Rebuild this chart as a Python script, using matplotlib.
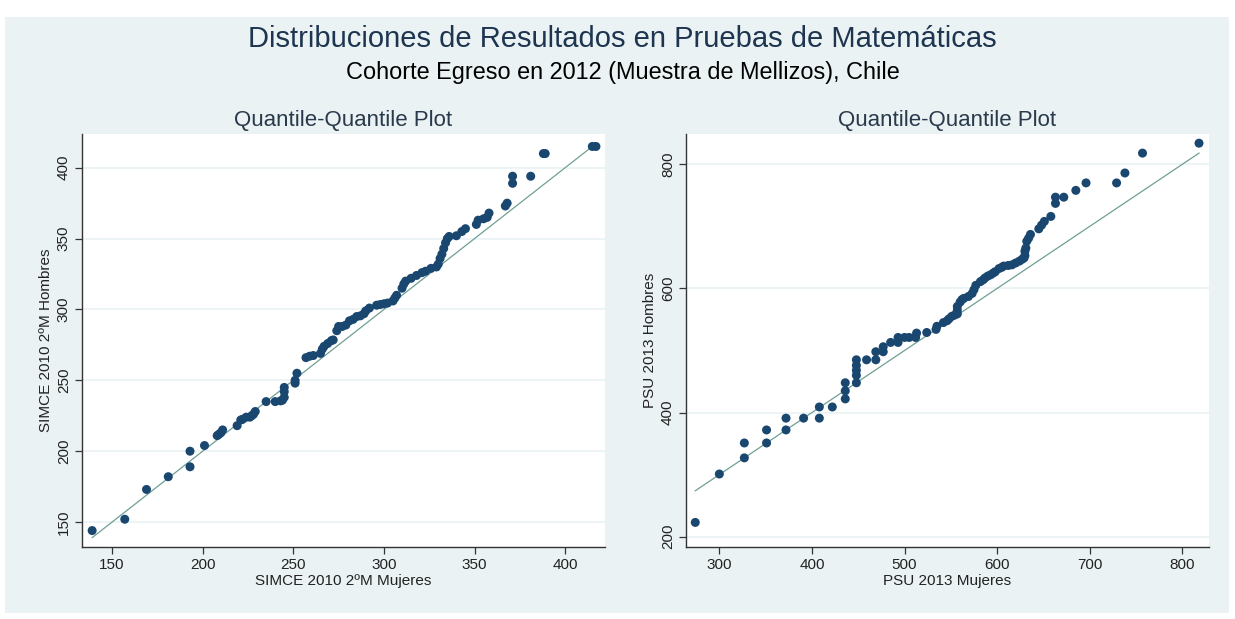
import matplotlib.pyplot as plt
from matplotlib.patches import Rectangle

plt.rcParams['font.family'] = ['Liberation Sans', 'DejaVu Sans']

# quantiles SIMCE 2010 2ºM (mujeres, hombres)
simce_mujeres = [139, 157, 169, 181, 193, 193, 201, 208, 209, 210, 211, 219, 221, 222,
                 224, 226, 227, 228, 229, 235, 240, 243, 244, 245, 245, 245, 251, 251,
                 252, 257, 259, 261, 265, 266, 267, 269, 271, 272, 274, 275, 277, 279,
                 281, 283, 285, 287, 289, 290, 292, 296, 298, 300, 302, 305, 306, 307,
                 310, 311, 312, 315, 318, 321, 323, 326, 329, 330, 331, 332, 333, 334,
                 335, 336, 340, 343, 345, 351, 352, 355, 357, 358, 367, 368, 371, 371,
                 381, 388, 389, 415, 417]
simce_hombres = [144, 152, 173, 182, 189, 200, 204, 211, 212, 213, 215, 218, 222, 222.5,
                 224, 224, 225, 226, 228, 235, 235, 235.5, 236, 238, 242, 245, 248, 250,
                 255, 266, 267, 267.5, 269, 272, 274, 276, 278, 278.5, 285, 288, 288, 289,
                 292, 293, 295, 295.5, 297, 299, 301, 303, 303.5, 304, 304.5, 306, 308, 310,
                 315, 318, 320, 322, 324, 326, 327, 329, 330, 332, 336, 339, 343, 347,
                 350, 351.5, 352, 355, 357, 360, 363, 364, 365, 368, 373, 375, 389, 394,
                 394, 410, 410, 415, 415]

# quantiles PSU 2013 (mujeres, hombres)
psu_mujeres = [274, 300, 327, 327, 351, 351, 372, 372, 391, 408, 408, 422, 436, 436,
               436, 448, 448, 448, 448, 448, 459, 469, 469, 477, 477, 485, 493, 493,
               500, 505, 512, 513, 524, 534, 535, 542, 546, 548, 551, 554, 557, 557,
               557, 560, 562, 564, 569, 573, 575, 577, 582, 585, 587, 590, 593, 596,
               598, 602, 605, 607, 612, 616, 620, 624, 627, 629, 630, 630, 631, 632,
               634, 636, 645, 648, 651, 658, 663, 663, 672, 685, 696, 729, 738, 757, 818]
psu_hombres = [223, 301, 327, 351, 351, 372, 372, 391, 391, 391, 409, 409, 422, 435,
               448, 448, 460, 468, 476, 485, 485, 485, 498, 498, 506, 513, 513, 521,
               521, 521, 521, 528, 529, 534, 539, 545, 548, 551, 555, 557, 559, 565,
               571, 578, 582, 584, 587, 592, 598, 605, 611, 614, 617, 620, 622, 625,
               627, 632, 634, 636, 637, 638, 641, 644, 647, 649, 653, 660, 665, 676,
               681, 687, 696, 702, 708, 716, 737, 747, 747, 758, 770, 770, 786, 818, 834]

panels = [
    (simce_mujeres, simce_hombres, "SIMCE 2010 2ºM Mujeres", "SIMCE 2010 2ºM Hombres",
     [150, 200, 250, 300, 350, 400], [150, 200, 250, 300, 350, 400], (133.4, 422), (132.4, 423.8)),
    (psu_mujeres, psu_hombres, "PSU 2013 Mujeres", "PSU 2013 Hombres",
     [300, 400, 500, 600, 700, 800], [200, 400, 600, 800], (264, 828.8), (183.4, 848.8)),
]

bg = '#EAF2F3'
navy = '#1A476F'

fig = plt.figure(figsize=(12.35, 6.19), dpi=100, facecolor='white')
fig.patches.append(Rectangle((5 / 1235, 1 - 613 / 619), 1224 / 1235, 596 / 619,
                             transform=fig.transFigure, facecolor=bg, edgecolor='none', zorder=-5))

fig.text(0.5036, 1 - 39 / 619, "Distribuciones de Resultados en Pruebas de Matemáticas",
         ha='center', va='center', fontsize=21, color='#1E3550')
fig.text(0.5040, 1 - 73 / 619, "Cohorte Egreso en 2012 (Muestra de Mellizos), Chile",
         ha='center', va='center', fontsize=16.9, color='black')

lefts = [82 / 1235, 686 / 1235]
for left, (xs, ys, xlab, ylab, xt, yt, xl, yl) in zip(lefts, panels):
    ax = fig.add_axes([left, 1 - 547 / 619, 523 / 1235, 413 / 619])
    ax.set_facecolor('white')
    ax.set_xlim(*xl)
    ax.set_ylim(*yl)
    ax.set_xticks(xt)
    ax.set_yticks(yt)
    ax.yaxis.grid(True, color=bg, lw=1.2)
    ax.set_axisbelow(True)

    # reference line y = x over the range of the women's quantiles
    ax.plot([xs[0], xs[-1]], [xs[0], xs[-1]], color='#6F9F95', lw=0.9, zorder=2)
    ax.scatter(xs, ys, s=42, color=navy, edgecolors='none', zorder=3)

    for side in ['top', 'right']:
        ax.spines[side].set_visible(False)
    for side in ['left', 'bottom']:
        ax.spines[side].set_color('#333333')
        ax.spines[side].set_linewidth(1.0)
    ax.tick_params(direction='out', length=5, width=0.9, color='#333333',
                   labelsize=11, labelcolor='#222222', pad=3)
    plt.setp(ax.get_yticklabels(), rotation=90, va='center')

    ax.set_xlabel(xlab, fontsize=11, color='#222222', labelpad=1)
    ax.set_ylabel(ylab, fontsize=11, color='#222222', labelpad=3)
    ax.set_title("Quantile-Quantile Plot", fontsize=16, color='#2A3A4C', pad=6)

fig.savefig("out.png", dpi=100, facecolor=fig.get_facecolor())
